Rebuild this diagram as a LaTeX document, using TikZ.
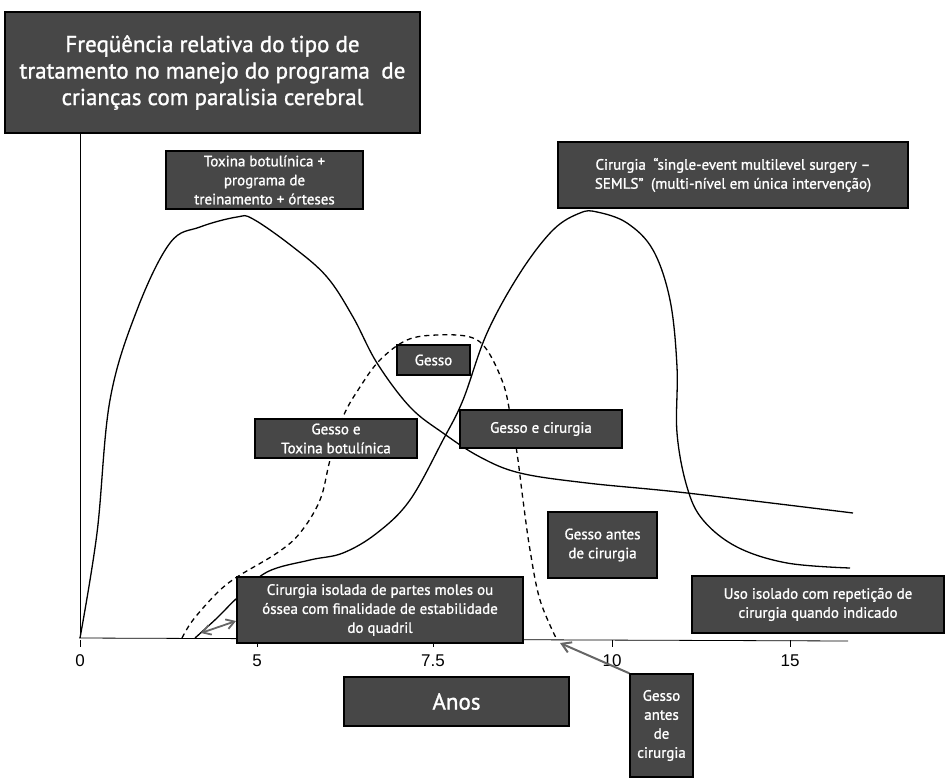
\documentclass[tikz,border=0pt]{standalone}
\usepackage{fontspec}
\setmainfont{PT Sans}
\newfontfamily\boxfont{PT Sans}[FakeBold=1.2]
\newfontfamily\axisfont{Liberation Sans}
\usetikzlibrary{arrows.meta}

\tikzset{
  label box/.style={draw=black, line width=1.4pt, fill=BoxGray, text=white,
    align=center, inner sep=0pt, font=\boxfont\fontsize{15}{19}\selectfont},
  curve/.style={line width=1.3pt, black},
  pointer/.style={line width=2pt, ArrowGray}
}

\begin{document}
\begin{tikzpicture}[x=1pt, y=-1pt]

\colorlet{BoxGray}{black!72}
\colorlet{ArrowGray}{black!60}

\useasboundingbox (0,0) rectangle (949,778);

% Axes
\draw[thick,black] (80,133) -- (80,638);
\draw[thick,black] (79,638) -- (848,641);

% Ticks
\foreach \x/\t in {80/0, 257/5, 433/7.5, 612/10, 790/15}
{
     \draw[thick,black] (\x,640) -- (\x,647);
     \node[font=\axisfont\fontsize{17}{17}\selectfont] (tick\x) at (\x,661) {\t};
}

% Curves
\draw[curve] plot[smooth, tension=0.6] coordinates {
  (80,638) (97,533) (110,400) (137,310) (170,243) (200,227) (237,217)
  (253,219) (293,247) (327,277) (353,317) (377,363) (410,407) (443,433)
  (480,457) (520,473) (587,483) (687,493) (853,513)};
\draw[curve] plot[smooth, tension=0.6] coordinates {
  (195,638) (217,618) (237,598) (267,572) (310,560) (343,553) (377,533)
  (410,500) (443,440) (463,400) (487,333) (520,273) (553,230) (580,213)
  (597,212) (627,223) (653,250) (670,300) (677,367) (677,433) (687,487)
  (703,520) (737,547) (787,563) (850,568)};
\draw[curve, dash pattern=on 5pt off 4pt] plot[smooth, tension=0.6] coordinates {
  (182,638) (193,620) (217,593) (237,577) (277,553) (300,533) (320,500)
  (330,460) (343,417) (360,387) (380,360) (407,340) (437,335) (470,337)
  (487,350) (503,383) (510,413) (517,453) (523,500) (530,550) (540,600)
  (557,640)};

% Labels
\node[label box, minimum width=415, minimum height=121,
      font=\boxfont\fontsize{23}{26.5}\selectfont] (title) at (212.5,72.5)
  {Freqüência relativa do tipo de\\tratamento no manejo do programa\enspace de\\crianças com paralisia cerebral};
\node[label box, minimum width=197, minimum height=58] (toxina) at (264.5,180)
  {Toxina botulínica +\\programa de\\treinamento + órteses};
\node[label box, minimum width=350, minimum height=66] (semls) at (733,175)
  {Cirurgia\enspace “single-event multilevel surgery –\\SEMLS”\enspace(multi-nível em única intervenção)};
\node[label box, minimum width=73, minimum height=30] (gesso) at (433.5,360) {Gesso};
\node[label box, minimum width=162, minimum height=39] (gessoToxina) at (336,438.5)
  {Gesso e\\Toxina botulínica};
\node[label box, minimum width=162, minimum height=38] (gessoCirurgia) at (541,429)
  {Gesso e cirurgia};
\node[label box, minimum width=109, minimum height=66] (gessoAntes) at (602.5,545)
  {Gesso antes\\de cirurgia};
\node[label box, minimum width=286, minimum height=66] (isolada) at (380,610)
  {Cirurgia isolada de partes moles ou\\óssea com finalidade de estabilidade\\do quadril};
\node[label box, minimum width=252, minimum height=57] (uso) at (818,604.5)
  {Uso isolado com repetição de\\cirurgia quando indicado};
\node[label box, minimum width=225, minimum height=49,
      font=\boxfont\fontsize{23}{26}\selectfont] (anos) at (456.5,701.5) {Anos};
\node[label box, minimum width=63, minimum height=103] (gessoFim) at (661.5,725.5)
  {Gesso\\antes\\de\\cirurgia};

% Pointers
\coordinate (hipA) at (201,633);
\coordinate (hipB) at (236,621);
\draw[pointer, line width=1.8pt, {Straight Barb[length=8pt,width=10pt]}-{Straight Barb[length=8pt,width=10pt]}] (hipA) -- (hipB);
\coordinate (gessoEnd) at (560,643);
\draw[pointer, -{Straight Barb[length=9pt,width=11pt]}] (gessoFim.north west) -- (gessoEnd);

\end{tikzpicture}
\end{document}
